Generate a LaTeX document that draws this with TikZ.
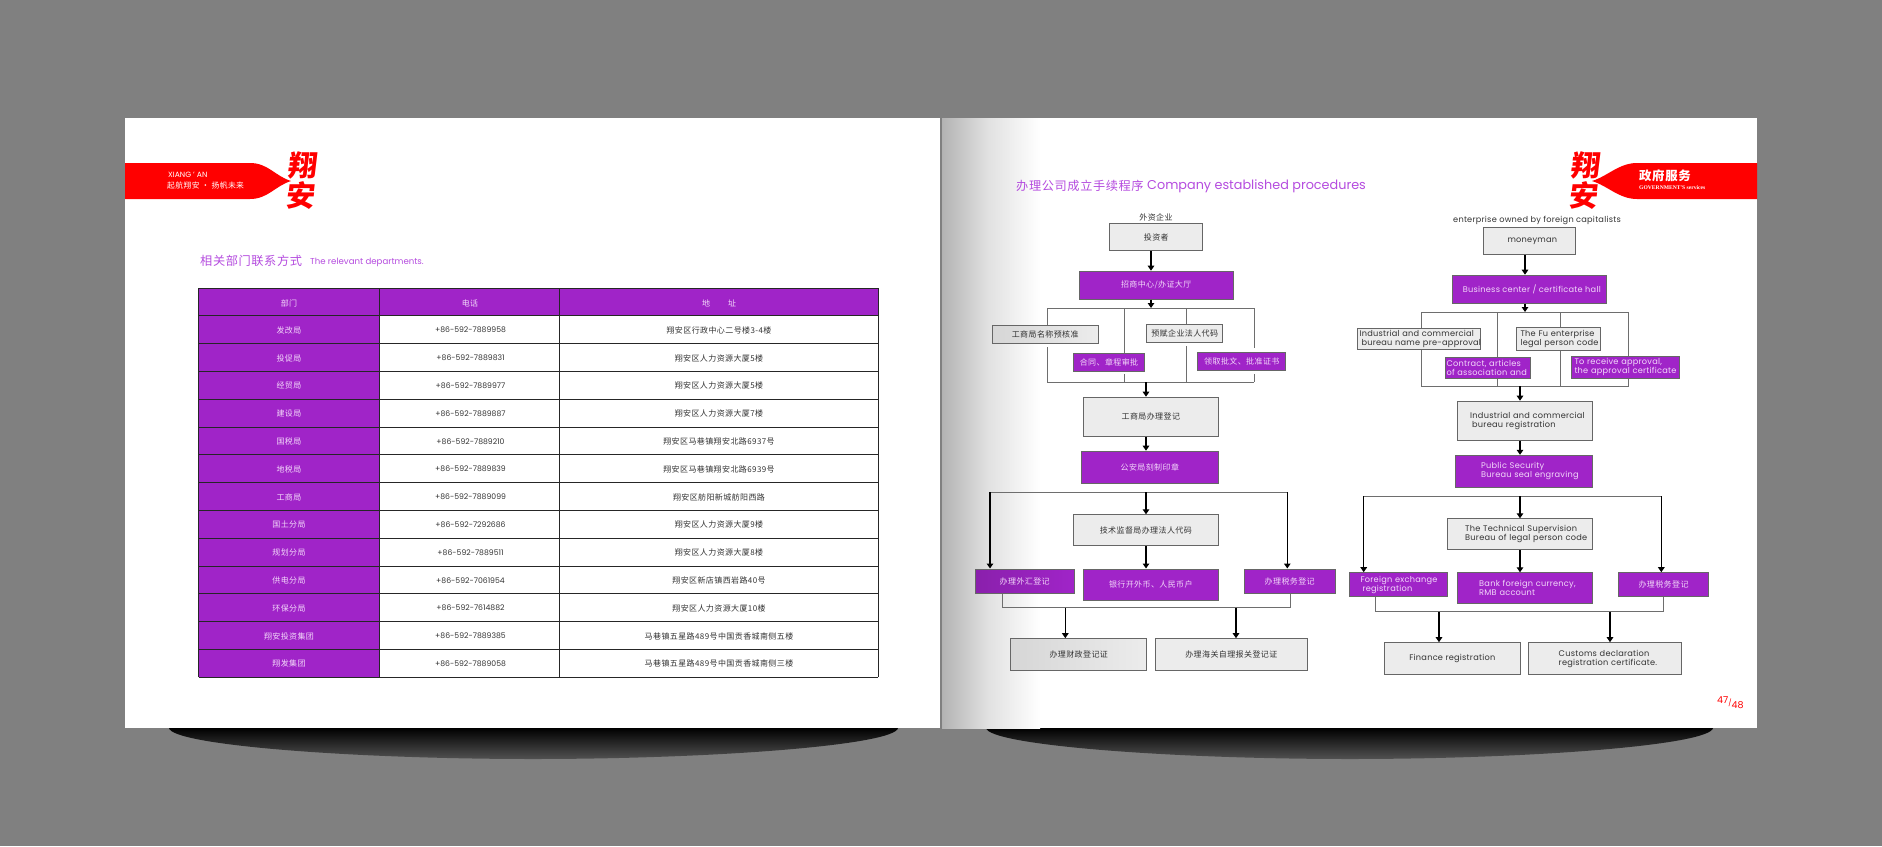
\documentclass[tikz,border=0pt]{standalone}
\usepackage{fontspec}
\usetikzlibrary{arrows.meta}
\setmainfont{Poppins}
\newfontfamily\boxlatin[LetterSpace=3]{Poppins}
\newfontfamily\cjk[LetterSpace=5]{Noto Sans CJK SC}
\newfontfamily\logofont[FakeSlant=0.12]{Noto Sans CJK SC}
\newfontfamily\titleserif{Liberation Serif}
\definecolor{bggray}{gray}{0.5}
\definecolor{spinegray}{gray}{0.70}
\definecolor{spinemid}{gray}{0.88}
\definecolor{boxgray}{HTML}{ECECEC}
\definecolor{boxshade}{HTML}{D6D6D6}
\definecolor{boxline}{HTML}{666666}
\definecolor{bracketline}{HTML}{6E6E6E}
\definecolor{ink}{HTML}{333333}
\definecolor{violet}{HTML}{A024C8}
\definecolor{violetshade}{HTML}{8A20AC}
\definecolor{lilac}{HTML}{B54CDF}
\definecolor{paleink}{HTML}{F3D9FA}
\pgfdeclarehorizontalshading{spinefade}{100bp}{color(0bp)=(spinegray); color(25bp)=(spinegray); color(48bp)=(spinemid); color(75bp)=(white); color(100bp)=(white)}
\tikzset{
  box/.style 2 args={minimum width=#1pt, minimum height=#2pt},
  greybox/.style={draw=boxline, fill=boxgray, text=ink, line width=1pt, inner sep=0pt, font=\boxlatin\fontsize{8.2}{9}\selectfont},
  purplebox/.style={draw=boxline, fill=violet, text=paleink, line width=1pt, inner sep=0pt, font=\boxlatin\fontsize{8.2}{9}\selectfont},
  cn/.style={font=\cjk\fontsize{8}{9}\selectfont},
  para/.style={text width=#1pt, align=left},
  flowarrow/.style={draw=black, line width=1.4pt, -{Triangle[length=5pt,width=6.5pt]}},
  bracket/.style={draw=bracketline, line width=1pt},
  gridline/.style={draw=black!85, line width=1pt},
  cellcn/.style={inner sep=0pt, font=\cjk\fontsize{8}{9}\selectfont},
  celltel/.style={inner sep=0pt, text=ink, font=\fontsize{7.7}{9}\selectfont},
  logochar/.style={text=red, inner sep=0pt, font=\logofont\bfseries\fontsize{29}{29}\selectfont},
  pagetitle/.style={text=lilac, inner sep=0pt, anchor=west}
}
\begin{document}
\begin{tikzpicture}[x=1pt, y=-1pt]
  \fill[bggray] (0,0) rectangle (1882,846);
  \useasboundingbox (0,0) rectangle (1882,846);
  % shadows under the pages
  \shade[top color=black, bottom color=black!68] (169,728) .. controls (172,745) and (350,759) .. (533,759) .. controls (716,759) and (895,745) .. (898,728) -- cycle;
  \shade[top color=black, bottom color=black!68] (986,728) .. controls (989,745) and (1167,759) .. (1350,759) .. controls (1533,759) and (1710,745) .. (1713,728) -- cycle;
  % pages
  \fill[white] (125,118) rectangle (940,728);
  \fill[white] (942,118) rectangle (1757,728);
  \shade[shading=spinefade] (942,118) rectangle (1040,728);
  % red banners
  \fill[red] (125,163) -- (250,163) .. controls (268,163) and (275,176) .. (291,181) .. controls (275,186) and (268,199) .. (250,199) -- (125,199) -- cycle;
  \fill[red] (1757,163) -- (1637,163) .. controls (1619,163) and (1608,176) .. (1592,181) .. controls (1608,186) and (1619,199) .. (1637,199) -- (1757,199) -- cycle;
  \node[logochar] (lxiang) at (302,165) {翔};
  \node[logochar] (lan) at (300,196) {安};
  \node[logochar] (rxiang) at (1585,165) {翔};
  \node[logochar] (ran) at (1583,196) {安};
  \node[text=white, inner sep=0pt, anchor=west, font=\fontsize{7.6}{8}\selectfont] (bannerlatin) at (168,175) {XIANG ' AN};
  \node[text=white, inner sep=0pt, anchor=west, font=\cjk\fontsize{7.8}{9}\selectfont] (bannercn) at (167,186) {起航翔安 · 扬帆未来};
  \node[text=white, inner sep=0pt, anchor=west, font=\cjk\bfseries\fontsize{12.4}{13}\selectfont] (servicecn) at (1639,176) {政府服务};
  \node[text=white, inner sep=0pt, anchor=west, font=\titleserif\bfseries\fontsize{5.6}{6}\selectfont] (servicelatin) at (1639,188) {GOVERNMENT'S services};
  % headings
  \node[pagetitle, font=\cjk\fontsize{12.2}{13}\selectfont] (depttitle) at (200,261) {相关部门联系方式};
  \node[pagetitle, font=\fontsize{8.6}{9}\selectfont] (depttitlelatin) at (310,262) {The relevant departments.};
  \node[pagetitle, font=\cjk\fontsize{12.2}{13}\selectfont] (proctitle) at (1016,186) {办理公司成立手续程序};
  \node[pagetitle, font=\fontsize{12.8}{13}\selectfont] (proctitlelatin) at (1147,186.5) {Company established procedures};
  % contact table
  \fill[violet] (198.7,288) rectangle (878,316);
  \fill[violet] (198.7,316) rectangle (379,677);
  \foreach \i in {0,...,14}{
    \draw[gridline] (198.7,{288+27.8*\i}) -- (878,{288+27.8*\i});
  }
  \foreach \x in {198.7,379,559.5,878}{
    \draw[gridline] (\x,288) -- (\x,677);
  }
  \node[cellcn, text=paleink] (headdept) at (289,303) {部门};
  \node[cellcn, text=paleink] (headtel) at (470,303) {电话};
  \node[cellcn, text=paleink] (headaddr) at (719,303) {地\hspace{18pt}址};
  \foreach \i/\dept/\tel/\addr in {
    1/发改局/+86-592-7889958/翔安区行政中心二号楼3-4楼,
    2/投促局/+86-592-7889831/翔安区人力资源大厦5楼,
    3/经贸局/+86-592-7889977/翔安区人力资源大厦5楼,
    4/建设局/+86-592-7889887/翔安区人力资源大厦7楼,
    5/国税局/+86-592-7889210/翔安区马巷镇翔安北路6937号,
    6/地税局/+86-592-7889839/翔安区马巷镇翔安北路6939号,
    7/工商局/+86-592-7889099/翔安区舫阳新城舫阳西路,
    8/国土分局/+86-592-7292686/翔安区人力资源大厦9楼,
    9/规划分局/+86-592-7889511/翔安区人力资源大厦8楼,
    10/供电分局/+86-592-7061954/翔安区新店镇西岩路40号,
    11/环保分局/+86-592-7614882/翔安区人力资源大厦10楼,
    12/翔安投资集团/+86-592-7889385/马巷镇五星路489号中国贡香城南侧五楼,
    13/翔发集团/+86-592-7889058/马巷镇五星路489号中国贡香城南侧三楼}{
    \node[cellcn, text=paleink] (dept\i) at (289,{302.4+27.8*\i}) {\dept};
    \node[celltel] (tel\i) at (470.5,{302.4+27.8*\i}) {\tel};
    \node[cellcn, text=ink] (addr\i) at (719,{302.4+27.8*\i}) {\addr};
  }
  % chinese flow chart
  \coordinate (lspine) at (1151,0);
  \coordinate (lstem) at (1146,0);
  \coordinate (ltl) at (1047.3,308);
  \coordinate (lbr) at (1254.3,382);
  \draw[bracket] (ltl) -- (ltl -| lbr);
  \draw[bracket] (ltl |- lbr) -- (lbr);
  \foreach \x/\ya/\yb in {1047.3/308/326, 1047.3/347/382, 1124.3/308/354, 1124.3/374/382, 1186.3/308/326, 1186.3/346/382, 1254.3/308/348, 1254.3/374/382}{
    \draw[bracket] (\x,\ya) -- (\x,\yb);
  }
  \node[inner sep=0pt, text=ink, cn] (lforeign) at (1156,217) {外资企业};
  \node[greybox, cn, box={93}{27}] (linvestor) at (1156.3,237.3) {投资者};
  \node[purplebox, cn, box={154}{28}] (lhall) at (1156.2,285.2) {招商中心/办证大厅};
  \node[greybox, cn, box={106}{18}, left color=boxshade, right color=boxgray] (lname) at (1045.2,334.7) {工商局名称预核准};
  \node[greybox, cn, box={76}{18}] (lcode) at (1184.7,333.3) {预赋企业法人代码};
  \node[purplebox, cn, box={71}{18}] (lcontract) at (1109,362.5) {合同、章程审批};
  \node[purplebox, cn, box={88}{18}] (lapproval) at (1241.8,361.2) {领取批文、批准证书};
  \node[greybox, cn, box={135}{39}] (lregister) at (1150.8,416.7) {工商局办理登记};
  \node[purplebox, cn, box={137}{32}] (lseal) at (1149.8,467.2) {公安局刻制印章};
  \node[greybox, cn, box={145}{31}] (lsuper) at (1145.8,530.3) {技术监督局办理法人代码};
  \node[purplebox, cn, box={99}{24}, left color=violetshade, right color=violet] (lforex) at (1024.7,581) {办理外汇登记};
  \node[purplebox, cn, box={135}{31}] (lbank) at (1150.8,584.5) {银行开外币、人民币户};
  \node[purplebox, cn, box={91}{24}] (ltax) at (1289.7,581) {办理税务登记};
  \node[greybox, cn, box={136}{32}, left color=boxshade, right color=boxgray] (lfinance) at (1078.7,654.7) {办理财政登记证};
  \node[greybox, cn, box={152}{32}] (lcustoms) at (1231.3,654.7) {办理海关自理报关登记证};
  \coordinate (lsplit) at (990,492.3);
  \coordinate (lsplitr) at (1287.3,492.3);
  \coordinate (lmergel) at (1002,607.7);
  \coordinate (lmerger) at (1290,607.7);
  \draw[bracket] (lsplit) -- (lsplitr);
  \draw[bracket] (lforex.south -| lmergel) -- (lmergel) -- (lmerger) -- (ltax.south -| lmerger);
  \draw[flowarrow] (linvestor.south -| lspine) -- (lhall.north -| lspine);
  \draw[flowarrow] (lhall.south -| lspine) -- (ltl -| lspine);
  \draw[flowarrow] (lbr -| lstem) -- (lregister.north -| lstem);
  \draw[flowarrow] (lregister.south -| lstem) -- (lseal.north -| lstem);
  \draw[flowarrow] (lsplit) -- (lforex.north -| lsplit);
  \draw[flowarrow] (lsplit -| lstem) -- (lsuper.north -| lstem);
  \draw[flowarrow] (lsplitr) -- (ltax.north -| lsplitr);
  \draw[flowarrow] (lsuper.south -| lstem) -- (lbank.north -| lstem);
  \coordinate (lfindrop) at (1065.3,0);
  \coordinate (lcusdrop) at (1236,0);
  \draw[flowarrow] (lmergel -| lfindrop) -- (lfinance.north -| lfindrop);
  \draw[flowarrow] (lmergel -| lcusdrop) -- (lcustoms.north -| lcusdrop);
  % english flow chart
  \coordinate (rspine) at (1525,0);
  \coordinate (rstem) at (1520,0);
  \coordinate (rtl) at (1421,312);
  \coordinate (rbr) at (1628,386);
  \draw[bracket] (rtl) rectangle (rbr);
  \foreach \x in {1497.7,1560}{
    \draw[bracket] (\x,312) -- (\x,386);
  }
  \node[inner sep=0pt, text=ink, font=\boxlatin\fontsize{8.2}{9}\selectfont] (rforeign) at (1537,220) {enterprise owned by foreign capitalists};
  \node[greybox, box={92}{27}] (rinvestor) at (1529.8,241.3) {\hspace{5pt}moneyman};
  \node[purplebox, box={154}{28}] (rhall) at (1529.8,289.2) {\hspace{4pt}Business center / certificate hall};
  \node[greybox, box={123}{21}, para=121] (rname) at (1419,338.7) {\hspace*{1pt}Industrial and commercial\\\hspace*{3pt}\mbox{bureau name pre-approval}};
  \node[greybox, box={84}{23}, para=80] (rcode) at (1558.5,338.5) {\hspace*{2pt}The Fu enterprise\\\hspace*{2pt}legal person code};
  \node[purplebox, box={85}{21}, para=83] (rcontract) at (1488,368) {Contract, articles\\of association and};
  \node[purplebox, box={108}{22}, para=106] (rapproval) at (1625.5,367.2) {\hspace*{2pt}To receive approval,\\\hspace*{2pt}the approval certificate};
  \node[greybox, box={135}{39}, para=133] (rregister) at (1524.7,420.7) {\hspace*{12pt}Industrial and commercial\\\hspace*{14pt}bureau registration};
  \node[purplebox, box={137}{32}, para=135] (rseal) at (1523.7,471.3) {\hspace*{25pt}Public Security\\\hspace*{25pt}Bureau seal engraving};
  \node[greybox, box={145}{31}, para=143] (rsuper) at (1519.7,534.3) {\hspace*{17pt}The Technical Supervision\\\hspace*{17pt}Bureau of legal person code};
  \node[purplebox, box={98}{24}, para=96] (rforex) at (1398.5,584.7) {\hspace*{10pt}Foreign exchange\\\hspace*{12pt}registration};
  \node[purplebox, box={135}{31}, para=133] (rbank) at (1524.7,588.3) {\hspace*{21pt}Bank foreign currency,\\\hspace*{21pt}RMB account};
  \node[purplebox, cn, box={90}{24}] (rtax) at (1663.5,584.7) {办理税务登记};
  \node[greybox, box={136}{32}] (rfinance) at (1452.3,658.7) {\raisebox{-1.5pt}{Finance registration}};
  \node[greybox, box={153}{32}, para=151] (rcustoms) at (1605.2,658.7) {\hspace*{29pt}Customs declaration\\\hspace*{29pt}registration certificate.};
  \coordinate (rsplit) at (1363.7,496.3);
  \coordinate (rsplitr) at (1661.3,496.3);
  \coordinate (rmergel) at (1375.7,611.7);
  \coordinate (rmerger) at (1663.3,611.7);
  \draw[bracket] (rsplit) -- (rsplitr);
  \draw[bracket] (rforex.south -| rmergel) -- (rmergel) -- (rmerger) -- (rtax.south -| rmerger);
  \draw[flowarrow] (rinvestor.south -| rspine) -- (rhall.north -| rspine);
  \draw[flowarrow] (rhall.south -| rspine) -- (rtl -| rspine);
  \draw[flowarrow] (rbr -| rstem) -- (rregister.north -| rstem);
  \draw[flowarrow] (rregister.south -| rstem) -- (rseal.north -| rstem);
  \draw[flowarrow] (rsplit) -- (rforex.north -| rsplit);
  \draw[flowarrow] (rsplit -| rstem) -- (rsuper.north -| rstem);
  \draw[flowarrow] (rsplitr) -- (rtax.north -| rsplitr);
  \draw[flowarrow] (rsuper.south -| rstem) -- (rbank.north -| rstem);
  \coordinate (rfindrop) at (1439,0);
  \coordinate (rcusdrop) at (1610,0);
  \draw[flowarrow] (rmergel -| rfindrop) -- (rfinance.north -| rfindrop);
  \draw[flowarrow] (rmergel -| rcusdrop) -- (rcustoms.north -| rcusdrop);
  % page numbers
  \node[text=red, inner sep=0pt, anchor=west, font=\fontsize{9.5}{10}\selectfont] (pagenum) at (1717,703) {47\raisebox{-1.5pt}{\fontsize{7}{8}\selectfont/}\raisebox{-5pt}{48}};
\end{tikzpicture}
\end{document}
